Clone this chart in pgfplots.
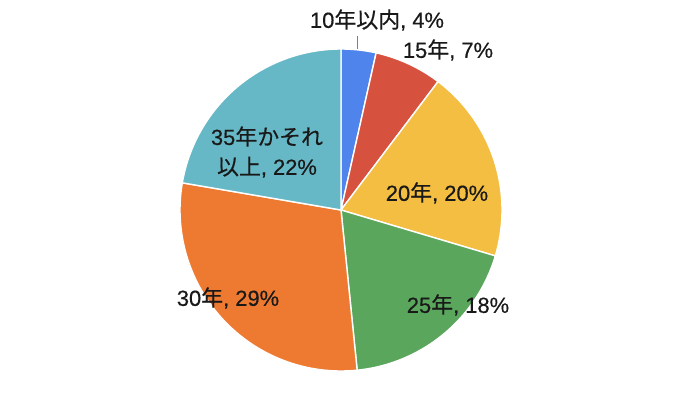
\documentclass[border=0pt]{standalone}
\usepackage{pgfplots}
\pgfplotsset{compat=1.18}
\usepackage{fontspec}
\setmainfont[FakeBold=0.4]{Liberation Sans}
\newfontfamily\cjk[FakeBold=0.4]{Noto Sans CJK JP}
\definecolor{cBlue}{HTML}{4F84EC}
\definecolor{cRed}{HTML}{D7513F}
\definecolor{cYellow}{HTML}{F3BE41}
\definecolor{cGreen}{HTML}{59A65C}
\definecolor{cOrange}{HTML}{EE7A31}
\definecolor{cTeal}{HTML}{67B8C6}
% slice shares (percent), clockwise from 12 o'clock
% 10年以内 3.5, 15年 6.8, 20年 19.3, 25年 18.8, 30年 29.3, 35年かそれ以上 22.3
\newcommand{\slice}[3]{%
  \addplot[fill=#3, draw=white, line width=1.4pt, domain={3.6*(#1)}:{3.6*(#2)}, samples=60, variable=\t]
    ({341+161*sin(\t)}, {183+161*cos(\t)}) -- (axis cs:341,183) -- cycle;
}
\begin{document}
\begin{tikzpicture}
\begin{axis}[scale only axis, width=700bp, height=393bp,
  xmin=0, xmax=700, ymin=0, ymax=393, hide axis, clip=false]
\path (axis cs:0,0) -- (axis cs:700,393);
\slice{0}{3.5}{cBlue}
\slice{3.5}{10.3}{cRed}
\slice{10.3}{29.6}{cYellow}
\slice{29.6}{48.4}{cGreen}
\slice{48.4}{77.7}{cOrange}
\slice{77.7}{100}{cTeal}
\addplot[gray, line width=0.6pt] coordinates {(357,344) (357,357)};
\begin{scope}[every node/.style={font=\fontsize{22}{30}\selectfont, text=black!90, inner sep=0pt}]
\node at (axis cs:377,373) {10{\cjk 年以内}, 4\%};
\node at (axis cs:448,343) {15{\cjk 年}, 7\%};
\node[align=center] at (axis cs:267,241) {35{\cjk 年かそれ}\\{\cjk 以上}, 22\%};
\node at (axis cs:437,200) {20{\cjk 年}, 20\%};
\node at (axis cs:458,88) {25{\cjk 年}, 18\%};
\node at (axis cs:228,95) {30{\cjk 年}, 29\%};
\end{scope}
\end{axis}
\end{tikzpicture}
\end{document}
